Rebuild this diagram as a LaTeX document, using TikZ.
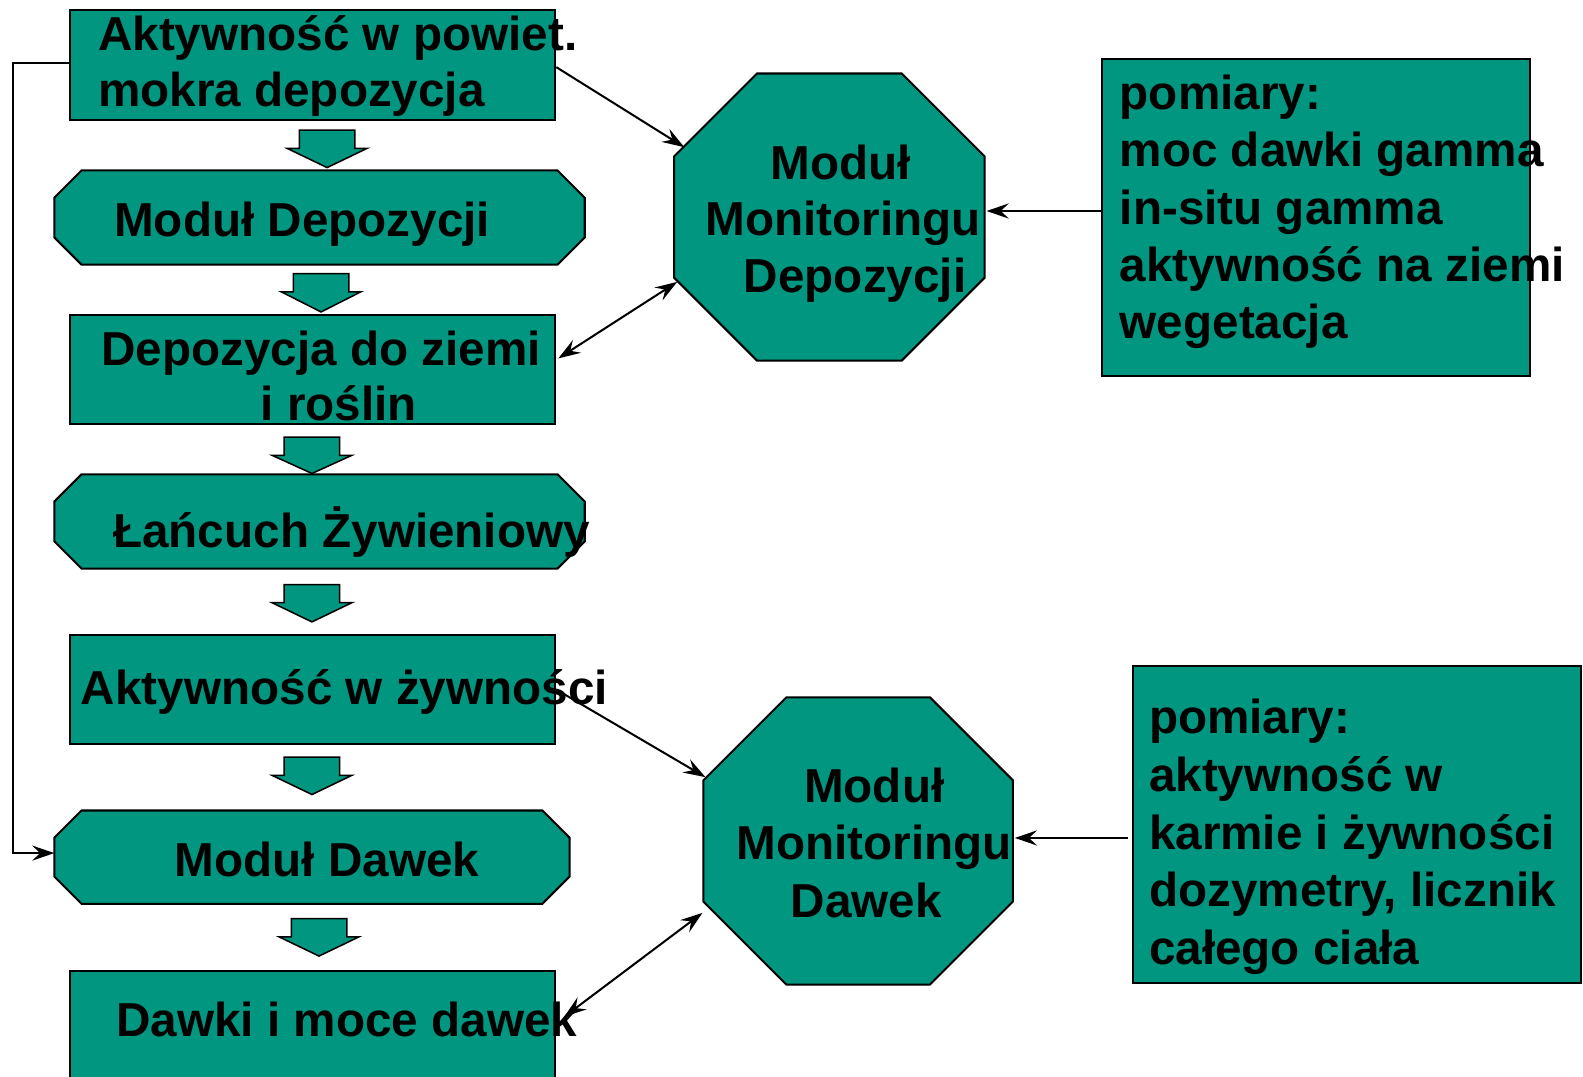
\documentclass[tikz,border=0pt]{standalone}
\usepackage{fontspec}
\setmainfont{Liberation Sans}
\usetikzlibrary{calc,arrows.meta}
\definecolor{teal1}{RGB}{0,150,128}
\tikzset{
  boxshape/.style={draw=black, fill=teal1, line width=2pt, rectangle, inner sep=0pt},
  frame/.style={draw=none, rectangle, inner sep=0pt},
  outline/.style={draw=black, fill=teal1, line width=2pt, line join=miter},
  lbl/.style={font=\fontsize{47.2}{56}\selectfont\bfseries, inner sep=0pt},
  conn/.style={line width=2pt},
  arrowend/.style={-{Stealth[length=22pt,width=15pt,inset=8pt]}},
  bothends/.style={{Stealth[length=22pt,width=15pt,inset=8pt]}-{Stealth[length=22pt,width=15pt,inset=8pt]}},
  blockarr/.style={draw=black, fill=teal1, line width=1.5pt, line join=miter},
}
\newcommand\chamf[2]{%
  \draw[outline] ($(#1.north west)+(#2,0)$) -- ($(#1.north east)+(-#2,0)$)
    -- ($(#1.north east)+(0,#2)$) -- ($(#1.south east)+(0,-#2)$)
    -- ($(#1.south east)+(-#2,0)$) -- ($(#1.south west)+(#2,0)$)
    -- ($(#1.south west)+(0,-#2)$) -- ($(#1.north west)+(0,#2)$) -- cycle;}
\newcommand\blockarrow[3]{%
  \draw[blockarr] (#1-27.5,#2) -- (#1+27.5,#2) -- (#1+27.5,#2+18) -- (#1+39.5,#2+18)
    -- (#1,#3) -- (#1-39.5,#2+18) -- (#1-27.5,#2+18) -- cycle;}
\begin{document}
\begin{tikzpicture}[x=1pt,y=-1pt]
\useasboundingbox (0,0) rectangle (1568,1066);
% left column boxes
\node[boxshape, minimum width=481pt, minimum height=109pt] (box1) at (309.5,64.5) {};
\node[frame, minimum width=525pt, minimum height=93pt] (dep) at (316.5,215.5) {};
\chamf{dep}{27}
\node[boxshape, minimum width=481pt, minimum height=108pt] (ground) at (309.5,366) {};
\node[frame, minimum width=525pt, minimum height=93pt] (chain) at (316.5,516.5) {};
\chamf{chain}{27}
\node[boxshape, minimum width=481pt, minimum height=108pt] (foodact) at (309.5,683) {};
\node[frame, minimum width=510pt, minimum height=92pt] (dawek) at (309,849) {};
\chamf{dawek}{27}
\node[boxshape, minimum width=481pt, minimum height=110pt] (doses) at (309.5,1017) {};
% octagons
\node[frame, minimum width=307pt, minimum height=284pt] (oct1) at (821.5,215) {};
\chamf{oct1}{82}
\node[frame, minimum width=306pt, minimum height=284pt] (oct2) at (850,833) {};
\chamf{oct2}{82}
% right boxes
\node[boxshape, minimum width=423pt, minimum height=314pt] (m1) at (1303.5,215) {};
\node[boxshape, minimum width=444pt, minimum height=314pt] (m2) at (1344,817) {};
% block arrows
\blockarrow{324}{129}{166}
\blockarrow{318}{271}{309}
\blockarrow{309}{433}{469}
\blockarrow{309}{579}{616}
\blockarrow{309}{750}{787}
\blockarrow{316}{910}{947}
% texts
\node[lbl, anchor=base west] (t1a) at (97,50) {Aktywność w powiet.};
\node[lbl, anchor=base west] (t1b) at (97,105) {mokra depozycja};
\node[lbl, anchor=base west] (t2) at (113,234) {Moduł Depozycji};
\node[lbl, anchor=base west] (t3a) at (100,362) {Depozycja do ziemi};
\node[lbl, anchor=base west] (t3b) at (258,417) {i roślin};
\node[lbl, anchor=base west] (t4) at (112,542) {Łańcuch Żywieniowy};
\node[lbl, anchor=base west] (t5) at (80,698) {Aktywność w żywności};
\node[lbl, anchor=base west] (t6) at (173,868) {Moduł Dawek};
\node[lbl, anchor=base west] (t7) at (115,1027) {Dawki i moce dawek};
\node[lbl, anchor=base] (o1a) at (833,178) {Moduł};
\node[lbl, anchor=base] (o1b) at (835,233) {Monitoringu};
\node[lbl, anchor=base] (o1c) at (847,290) {Depozycji};
\node[lbl, anchor=base] (o2a) at (866,795) {Moduł};
\node[lbl, anchor=base] (o2b) at (866,851) {Monitoringu};
\node[lbl, anchor=base] (o2c) at (858,909) {Dawek};
\node[lbl, anchor=base west] (r1a) at (1109,108) {pomiary:};
\node[lbl, anchor=base west] (r1b) at (1109,165) {moc dawki gamma};
\node[lbl, anchor=base west] (r1c) at (1109,222) {in-situ gamma};
\node[lbl, anchor=base west] (r1d) at (1109,279) {aktywność na ziemi};
\node[lbl, anchor=base west] (r1e) at (1109,335) {wegetacja};
\node[lbl, anchor=base west] (r2a) at (1138,727) {pomiary:};
\node[lbl, anchor=base west] (r2b) at (1138,784) {aktywność w};
\node[lbl, anchor=base west] (r2c) at (1138,841) {karmie i żywności};
\node[lbl, anchor=base west] (r2d) at (1138,898) {dozymetry, licznik};
\node[lbl, anchor=base west] (r2e) at (1138,955) {całego ciała};
% connectors
\draw[conn, arrowend] ($(box1.west)+(0,-2)$) -- ++(-55,0) |- ($(dawek.west)+(0,-4)$);
\draw[conn, arrowend] ($(box1.east)+(0,2)$) -- ($(oct1.north west)+(10,73)$);
\draw[conn, bothends] ($(ground.east)+(2,-11)$) -- ($(oct1.south west)+(3,-78)$);
\draw[conn, arrowend] ($(m1.west)+(0,-6)$) -- ($(oct1.east)+(2,-6)$);
\draw[conn, arrowend] (foodact.east) -- ($(oct2.north west)+(2,79)$);
\draw[conn, bothends] ($(doses.north east)+(8,46)$) -- ($(oct2.south west)+(-1,-71)$);
\draw[conn, arrowend] ($(m2.west)+(-4,13)$) -- ($(oct2.east)+(2,-3)$);
\end{tikzpicture}
\end{document}
